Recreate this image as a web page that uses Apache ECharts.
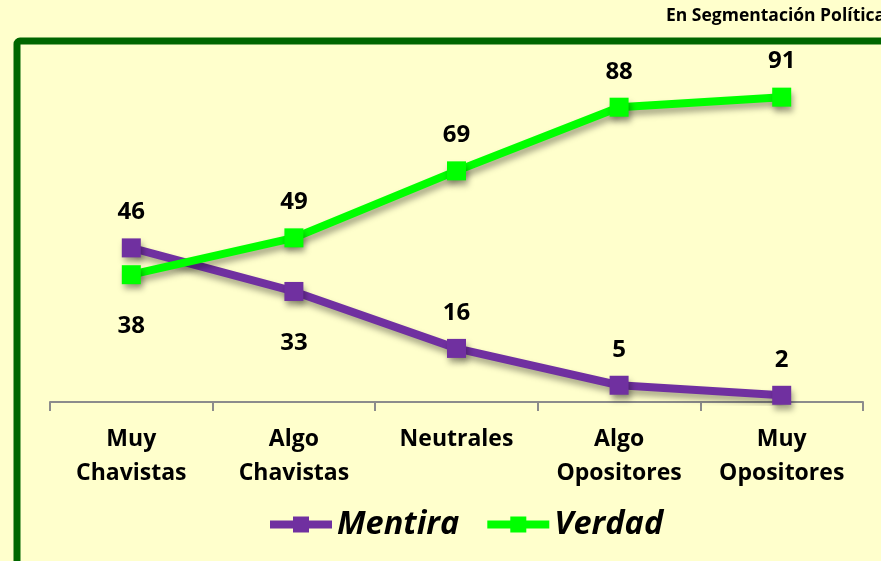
<!DOCTYPE html>
<html>
<head>
<meta charset="utf-8">
<script src="https://cdn.jsdelivr.net/npm/echarts@6/dist/echarts.min.js"></script>
<style>
  html, body { margin: 0; padding: 0; background: #FFFFCC; }
  #main { width: 881px; height: 561px; }
</style>
</head>
<body>
<div id="main"></div>
<script>
// datos
var categorias = ['Muy\nChavistas', 'Algo\nChavistas', 'Neutrales', 'Algo\nOpositores', 'Muy\nOpositores'];
var mentira = [46, 33, 16, 5, 2];
var verdad = [38, 49, 69, 88, 91];

var fuente = '"Open Sans", "Noto Sans", sans-serif';

// etiqueta debajo del punto cuando la otra serie esta encima
function puntos(valores, otra) {
  return valores.map(function (v, i) {
    var abajo = v < otra[i] && i < 2;
    return {
      value: v,
      label: { position: abajo ? 'bottom' : 'top', distance: abajo ? 30 : 14 }
    };
  });
}

function serie(nombre, valores, otra, color) {
  return {
    name: nombre,
    type: 'line',
    data: puntos(valores, otra),
    symbol: 'rect',
    symbolSize: 19,
    lineStyle: {
      width: 8, color: color,
      shadowColor: 'rgba(0,0,0,0.35)', shadowBlur: 6, shadowOffsetX: 2, shadowOffsetY: 5
    },
    itemStyle: {
      color: color,
      shadowColor: 'rgba(0,0,0,0.35)', shadowBlur: 6, shadowOffsetX: 2, shadowOffsetY: 5
    },
    label: {
      show: true, color: '#000', fontWeight: 'bold', fontSize: 24, fontFamily: fuente
    }
  };
}

var myChart = echarts.init(document.getElementById('main'));
var option = {
  backgroundColor: '#FFFFCC',
  animation: false,
  graphic: [
    {
      type: 'rect', z: -10,
      shape: { x: 17, y: 41, width: 900, height: 600, r: 3 },
      style: { fill: 'none', stroke: '#006600', lineWidth: 7 }
    },
    {
      type: 'text', left: 666, top: 7,
      style: { text: 'En Segmentación Política', font: 'bold 17.5px ' + fuente, fill: '#000' }
    }
  ],
  grid: { left: 50, right: 18, top: 67, bottom: 159 },
  legend: {
    bottom: 15, left: 261,
    itemWidth: 62, itemHeight: 20, itemGap: 24,
    lineStyle: { width: 8 },
    textStyle: { fontSize: 32.5, fontStyle: 'italic', fontWeight: 'bold', fontFamily: fuente, color: '#000' },
    data: ['Mentira', 'Verdad']
  },
  xAxis: {
    type: 'category',
    data: categorias,
    boundaryGap: true,
    axisLine: { lineStyle: { color: '#8c8c8c', width: 2 } },
    axisTick: { show: true, length: 9, lineStyle: { color: '#8c8c8c', width: 2 } },
    axisLabel: {
      color: '#000', fontWeight: 'bold', fontSize: 23, fontFamily: fuente,
      lineHeight: 34, margin: 20, interval: 0
    }
  },
  yAxis: {
    type: 'value', min: 0, max: 100, show: false,
    splitLine: { show: false }
  },
  series: [
    serie('Mentira', mentira, verdad, '#7030A0'),
    serie('Verdad', verdad, mentira, '#00FF00')
  ]
};
myChart.setOption(option);
</script>
</body>
</html>
